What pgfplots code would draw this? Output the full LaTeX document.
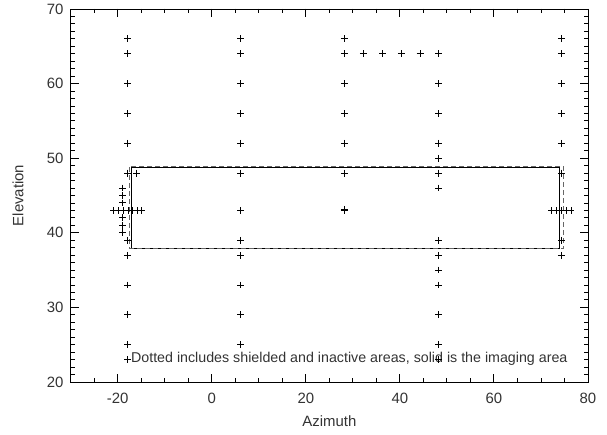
\documentclass[border=0pt]{standalone}
\usepackage{fontspec}
\setmainfont{Liberation Sans}
\usepackage{pgfplots}
\pgfplotsset{compat=1.18}
\begin{document}
\begin{tikzpicture}
\begin{axis}[
 at={(0,0)}, anchor=south west,
 scale only axis, width=517.3bp, height=373bp,
 xmin=-30, xmax=80, ymin=20, ymax=70,
 xtick={-20,0,20,40,60,80}, minor x tick num=3,
 ytick={20,30,40,50,60,70}, minor y tick num=9,
 xticklabels={-20,0,20,40,60,80},
 yticklabels={20,30,40,50,60,70},
 major tick length=8bp, minor tick length=4bp,
 every tick/.style={black, line width=0.9bp},
 ticklabel style={font=\fontsize{15}{18}\selectfont, text=black!80},
 xticklabel style={inner sep=0pt, anchor=north, yshift=-11bp},
 yticklabel style={inner sep=0pt, anchor=east, xshift=-7bp},
 xlabel={Azimuth}, ylabel={Elevation},
 label style={font=\fontsize{15}{18}\selectfont, text=black!80},
 xlabel style={at={(axis description cs:0.5,0)}, anchor=center, yshift=-39bp},
 ylabel style={at={(axis description cs:0,0.5)}, anchor=center, yshift=52.7bp},
]
% rectangles
\addplot[black, line width=0.8bp] coordinates {(-17,37.9) (74,37.9) (74,48.8) (-17,48.8) (-17,37.9)};
\addplot[black!60, line width=0.8bp, dash pattern=on 5bp off 3bp] coordinates {(-17.6,37.9) (74.8,37.9) (74.8,48.9) (-17.6,48.9) (-17.6,37.9)};
% points
\addplot[only marks, mark=+, mark size=3.4bp, mark options={line width=1bp, black}] coordinates {
(-17.9,66) (-17.9,64) (-17.9,60) (-17.9,56) (-17.9,52) (-17.9,48) (-17.9,39) (-17.9,37) (-17.9,33) (-17.9,29) (-17.9,25) (-17.9,23)
(-16,48)
(-20.9,43) (-19.9,43) (-18.8,43) (-17.8,43) (-16.8,43) (-15.8,43) (-14.9,43)
(-19,40) (-19,41) (-19,42) (-19,44) (-19,45) (-19,46)
};
\addplot[only marks, mark=+, mark size=3.4bp, mark options={line width=1bp, black}] coordinates {
(6.1,66) (6.1,64) (6.1,60) (6.1,56) (6.1,52) (6.1,48) (6.1,43) (6.1,39) (6.1,37) (6.1,33) (6.1,29) (6.1,25)
};
\addplot[only marks, mark=+, mark size=3.4bp, mark options={line width=1bp, black}] coordinates {
(28.2,66) (28.2,64) (28.2,60) (28.2,56) (28.2,52) (28.2,48) (28.2,43) (28.2,43.15)
(32.2,64) (36.3,64) (40.3,64) (44.3,64)
};
\addplot[only marks, mark=+, mark size=3.4bp, mark options={line width=1bp, black}] coordinates {
(48.2,64) (48.2,60) (48.2,56) (48.2,52) (48.2,50) (48.2,48) (48.2,46) (48.2,39) (48.2,37) (48.2,35) (48.2,33) (48.2,29) (48.2,25) (48.2,23)
};
\addplot[only marks, mark=+, mark size=3.4bp, mark options={line width=1bp, black}] coordinates {
(74.3,66) (74.3,64) (74.3,60) (74.3,56) (74.3,52) (74.3,48) (74.3,39) (74.3,37)
(72.3,43) (73.4,43) (74.4,43) (75.4,43) (76.4,43)
};
% tick marks drawn explicitly on all four sides (absolute axis coordinates)
\pgfplotsinvokeforeach{-20,0,20,40,60,80}{
 \draw[black, line width=0.9bp] (axis cs:#1,20) -- (axis cs:#1,21.07);
 \draw[black, line width=0.9bp] (axis cs:#1,70) -- (axis cs:#1,68.93);
}
\pgfplotsinvokeforeach{-25,-15,-10,-5,5,10,15,25,30,35,45,50,55,65,70,75}{
 \draw[black, line width=0.9bp] (axis cs:#1,20) -- (axis cs:#1,20.54);
 \draw[black, line width=0.9bp] (axis cs:#1,70) -- (axis cs:#1,69.46);
}
\pgfplotsinvokeforeach{30,40,50,60}{
 \draw[black, line width=0.9bp] (axis cs:-30,#1) -- (axis cs:-28.3,#1);
 \draw[black, line width=0.9bp] (axis cs:80,#1) -- (axis cs:78.3,#1);
}
\pgfplotsinvokeforeach{21,22,23,24,25,26,27,28,29,31,32,33,34,35,36,37,38,39,41,42,43,44,45,46,47,48,49,51,52,53,54,55,56,57,58,59,61,62,63,64,65,66,67,68,69}{
 \draw[black, line width=0.9bp] (axis cs:-30,#1) -- (axis cs:-29.15,#1);
 \draw[black, line width=0.9bp] (axis cs:80,#1) -- (axis cs:79.15,#1);
}
\node[anchor=west, inner sep=0pt, font=\fontsize{14.3}{16}\selectfont, text=black!80] at (axis cs:-17.2,23.1) {Dotted includes shielded and inactive areas, solid is the imaging area};
\end{axis}
\path (-70.7bp,-53bp) rectangle (536.3bp,382bp);
\end{tikzpicture}
\end{document}
